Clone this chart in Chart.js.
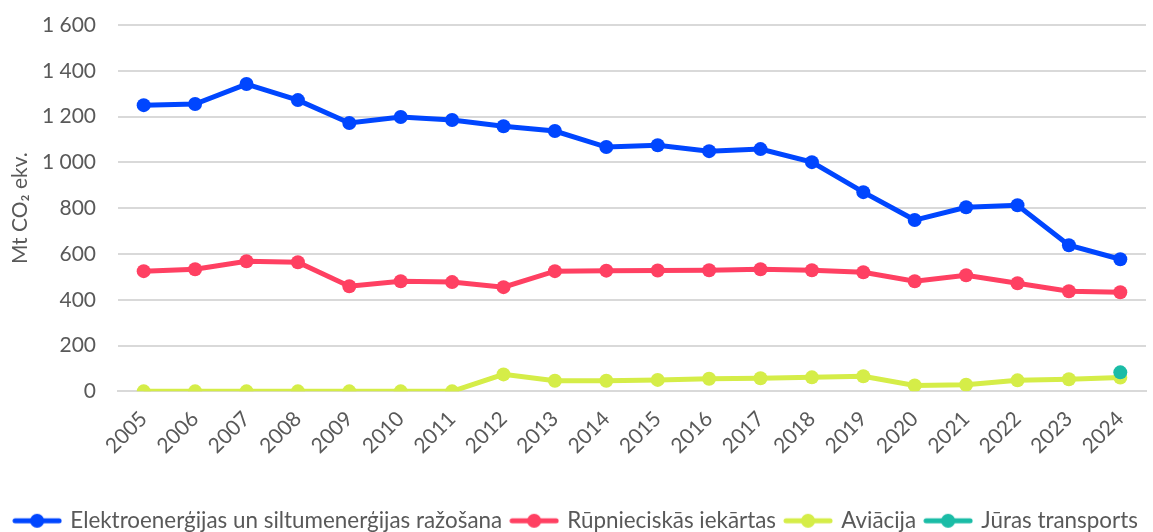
<!DOCTYPE html>
<html>
<head>
<meta charset="utf-8">
<script src="https://cdn.jsdelivr.net/npm/chart.js@4/dist/chart.umd.min.js"></script>
<style>
  html, body { margin: 0; padding: 0; background: #fff; }
  #wrap { width: 1153px; height: 532px; position: relative; }
</style>
</head>
<body>
<div id="wrap"><canvas id="chart"></canvas></div>
<script>
const years = ['2005', '2006', '2007', '2008', '2009', '2010', '2011', '2012', '2013', '2014',
  '2015', '2016', '2017', '2018', '2019', '2020', '2021', '2022', '2023', '2024']

const power = [1250, 1255, 1342, 1272, 1172, 1198, 1185, 1158, 1137, 1067,
  1075, 1049, 1058, 1001, 870, 748, 804, 813, 638, 577]
const industry = [525, 533, 568, 564, 459, 481, 477, 455, 525, 527,
  528, 529, 533, 529, 520, 481, 507, 472, 437, 433]
const aviation = [0, 0, 0, 0, 0, 0, 0, 74, 46, 46,
  50, 55, 57, 61, 66, 26, 29, 48, 53, 60]
const maritime = [null, null, null, null, null, null, null, null, null, null,
  null, null, null, null, null, null, null, null, null, 83]

const seriesNames = ['Elektroenerģijas un siltumenerģijas ražošana', 'Rūpnieciskās iekārtas', 'Aviācija', 'Jūras transports']
const yTicks = [0, 200, 400, 600, 800, 1000, 1200, 1400, 1600]

const colors = ['#0046ff', '#ff4062', '#d5ed48', '#1abca6']
const font = 'Lato'
const grey = '#595959'

// legend marker: short line with a dot in the middle
function legendMarker (color) {
  const c = document.createElement('canvas')
  c.width = 50
  c.height = 16
  const ctx = c.getContext('2d')
  ctx.strokeStyle = color
  ctx.lineWidth = 5
  ctx.lineCap = 'round'
  ctx.beginPath()
  ctx.moveTo(3, 8)
  ctx.lineTo(47, 8)
  ctx.stroke()
  ctx.fillStyle = color
  ctx.beginPath()
  ctx.arc(25, 8, 7, 0, Math.PI * 2)
  ctx.fill()
  return c
}

function makeSet (i, data) {
  return {
    label: seriesNames[i],
    data: data,
    borderColor: colors[i],
    backgroundColor: colors[i],
    borderWidth: 5,
    pointRadius: 7,
    pointHoverRadius: 7,
    pointBorderWidth: 0,
    tension: 0
  }
}

const context = document.getElementById('chart').getContext('2d')
const chart = new Chart(context, {
  type: 'line',
  data: {
    labels: years,
    datasets: [
      makeSet(3, maritime),
      makeSet(0, power),
      makeSet(1, industry),
      makeSet(2, aviation)
    ]
  },
  options: {
    responsive: true,
    maintainAspectRatio: false,
    animation: false,
    layout: { padding: { top: 25, right: 0, left: 0, bottom: -10 } },
    plugins: {
      tooltip: { enabled: false },
      legend: {
        position: 'bottom',
        labels: {
          usePointStyle: true,
          pointStyleWidth: 44,
          padding: 10,
          color: grey,
          font: { family: font, size: 22.4 },
          sort: (a, b) => seriesNames.indexOf(a.text) - seriesNames.indexOf(b.text),
          generateLabels: (ch) => ch.data.datasets.map((ds, i) => ({
            text: ds.label,
            pointStyle: legendMarker(ds.borderColor),
            fillStyle: ds.borderColor,
            strokeStyle: ds.borderColor,
            lineWidth: 0,
            fontColor: grey,
            hidden: false,
            datasetIndex: i
          }))
        }
      }
    },
    scales: {
      x: {
        offset: true,
        grid: { display: false, drawTicks: false },
        border: { display: true, color: '#d9d9d9', width: 2 },
        afterFit: (scale) => {
          scale.height += 26
          scale.paddingLeft = 0
          scale.paddingRight = 7
        },
        ticks: {
          color: grey,
          font: { family: font, size: 21 },
          minRotation: 45,
          maxRotation: 45,
          padding: 15
        }
      },
      y: {
        min: 0,
        max: 1600,
        afterBuildTicks: (axis) => { axis.ticks = yTicks.map(v => ({ value: v })) },
        afterFit: (scale) => {
          scale.width = 118
          scale.paddingTop = 0
          scale.paddingBottom = 0
        },
        grid: { color: '#d9d9d9', lineWidth: 2, drawTicks: false },
        border: { display: false },
        ticks: {
          color: grey,
          font: { family: font, size: 21 },
          padding: 22,
          callback: (v) => String(v).replace(/\B(?=(\d{3})+(?!\d))/g, ' ')
        },
        title: {
          display: true,
          text: 'Mt CO₂ ekv.',
          color: grey,
          font: { family: font, size: 21 },
          padding: { top: 8, bottom: 10 }
        }
      }
    }
  }
})
</script>
</body>
</html>
